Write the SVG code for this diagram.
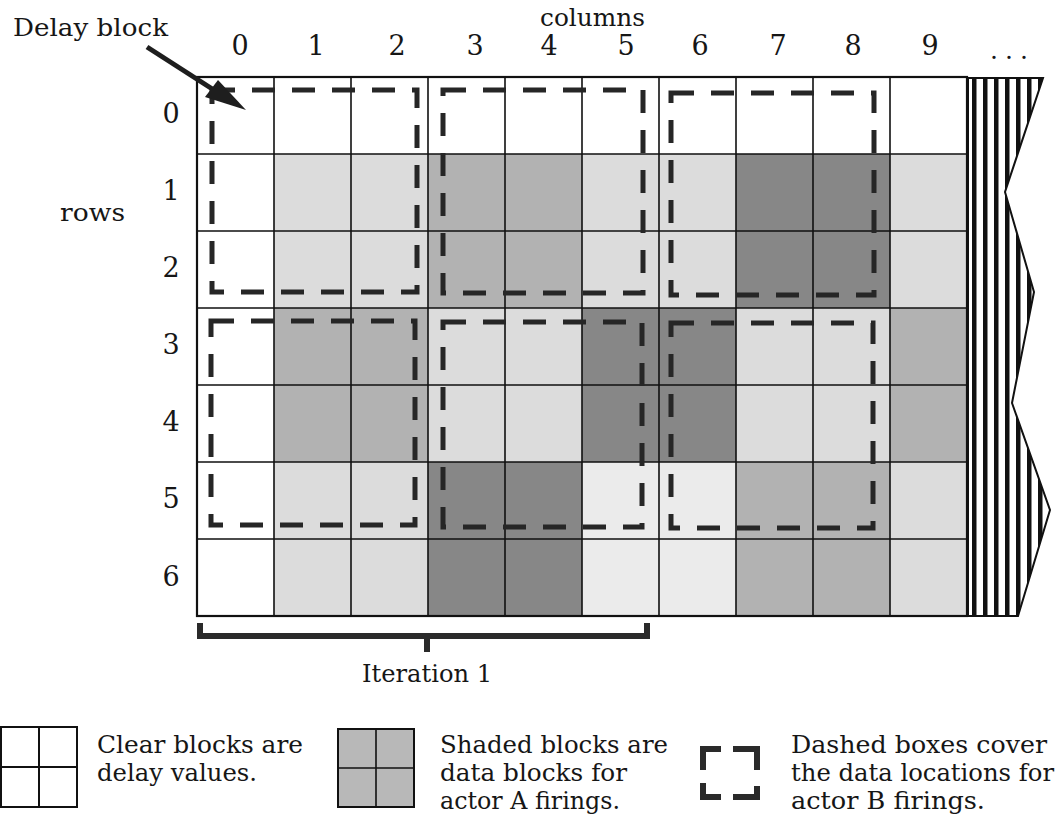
<svg xmlns="http://www.w3.org/2000/svg" width="1057" height="825" viewBox="0 0 1057 825">
<style>
text{font-family:"DejaVu Serif","Liberation Serif",serif;fill:#161616}
.lbl{font-size:25px}
.num{font-size:27px;text-anchor:middle}
.leg{font-size:24px}
.L{fill:#dcdcdc}.VL{fill:#ebebeb}.M{fill:#b2b2b2}.D{fill:#878787}
.grid{fill:none;stroke:#111;stroke-width:1.6}
.outer{fill:none;stroke:#111;stroke-width:2.2}
.dash{fill:none;stroke:#262626;stroke-width:5;stroke-dasharray:23 17}
.brk{fill:none;stroke:#2a2a2a;stroke-width:6;stroke-linejoin:miter}
</style>
<defs>
<pattern id="stripes" patternUnits="userSpaceOnUse" x="970" y="0" width="11" height="10">
<rect width="11" height="10" fill="#fff"/>
<rect x="2" width="4.5" height="10" fill="#111"/>
</pattern>
</defs>
<rect width="1057" height="825" fill="#fff"/>

<g id="cells">
<g id="blocks-r1-2">
<rect class="L" x="274" y="154" width="154" height="154"/>
<rect class="M" x="428" y="154" width="154" height="154"/>
<rect class="L" x="582" y="154" width="154" height="154"/>
<rect class="D" x="736" y="154" width="154" height="154"/>
<rect class="L" x="890" y="154" width="77" height="154"/>
</g>
<g id="blocks-r3-4">
<rect class="M" x="274" y="308" width="154" height="154"/>
<rect class="L" x="428" y="308" width="154" height="154"/>
<rect class="D" x="582" y="308" width="154" height="154"/>
<rect class="L" x="736" y="308" width="154" height="154"/>
<rect class="M" x="890" y="308" width="77" height="154"/>
</g>
<g id="blocks-r5-6">
<rect class="L" x="274" y="462" width="154" height="154"/>
<rect class="D" x="428" y="462" width="154" height="154"/>
<rect class="VL" x="582" y="462" width="154" height="154"/>
<rect class="M" x="736" y="462" width="154" height="154"/>
<rect class="L" x="890" y="462" width="77" height="154"/>
</g>
<path class="grid" d="M274 77V616M351 77V616M428 77V616M505 77V616M582 77V616M659 77V616M736 77V616M813 77V616M890 77V616M197 154H967M197 231H967M197 308H967M197 385H967M197 462H967M197 539H967"/>
<rect class="outer" x="197" y="77" width="770" height="539"/>
</g>

<g id="continuation">
<polygon points="968,78 1043,78 1005,192 1034,292 1012,403 1050,510 1018,616 968,616" fill="url(#stripes)" stroke="#111" stroke-width="2"/>
</g>

<g id="dashed-boxes">
<path id="boxA" class="dash" d="M212 90H417V292H212Z"/>
<path id="boxB" class="dash" d="M443 90H643V293H443Z"/>
<path id="boxC" class="dash" d="M671 93H874V295H671Z"/>
<path id="boxD" class="dash" d="M211 321H415V525H211Z"/>
<path id="boxE" class="dash" d="M443 322H642V527H443Z"/>
<path id="boxF" class="dash" d="M671 323H873V528H671Z"/>
</g>

<g id="labels">
<text class="lbl" x="13" y="36" textLength="155" lengthAdjust="spacingAndGlyphs">Delay block</text>
<text class="lbl" x="540" y="26" textLength="105" lengthAdjust="spacingAndGlyphs">columns</text>
<text class="lbl" x="60" y="221" textLength="65" lengthAdjust="spacingAndGlyphs">rows</text>
<text class="num" x="240" y="55">0</text>
<text class="num" x="316" y="55">1</text>
<text class="num" x="397" y="55">2</text>
<text class="num" x="475" y="55">3</text>
<text class="num" x="549" y="55">4</text>
<text class="num" x="626" y="55">5</text>
<text class="num" x="700" y="55">6</text>
<text class="num" x="778" y="55">7</text>
<text class="num" x="853" y="55">8</text>
<text class="num" x="930" y="55">9</text>
<text class="lbl" x="990" y="59" textLength="38" lengthAdjust="spacing">...</text>
<text class="num" x="171" y="123">0</text>
<text class="num" x="171" y="200">1</text>
<text class="num" x="171" y="277">2</text>
<text class="num" x="171" y="354">3</text>
<text class="num" x="171" y="431">4</text>
<text class="num" x="171" y="508">5</text>
<text class="num" x="171" y="586">6</text>
<text class="lbl" x="362" y="682" textLength="130" lengthAdjust="spacingAndGlyphs">Iteration 1</text>
</g>

<g id="connectors">
<line x1="147" y1="47" x2="217" y2="92" stroke="#1e1e1e" stroke-width="5"/>
<polygon points="246,110 205,97 218,80" fill="#1e1e1e"/>
<path id="iteration-bracket" class="brk" d="M200 623V636H647V623M427 636V652"/>
</g>

<g id="legend-clear">
<rect x="1" y="727" width="76" height="80" fill="#fff" stroke="#111" stroke-width="2"/>
<path d="M39 727V807M1 767H77" stroke="#111" stroke-width="2"/>
<text class="leg" x="97" y="753" textLength="206" lengthAdjust="spacingAndGlyphs">Clear blocks are</text>
<text class="leg" x="97" y="781" textLength="160" lengthAdjust="spacingAndGlyphs">delay values.</text>
</g>
<g id="legend-shaded">
<rect x="338" y="729" width="76" height="78" fill="#b8b8b8" stroke="#111" stroke-width="2"/>
<path d="M376 729V807M338 768H414" stroke="#111" stroke-width="1.6"/>
<text class="leg" x="440" y="753" textLength="228" lengthAdjust="spacingAndGlyphs">Shaded blocks are</text>
<text class="leg" x="440" y="781" textLength="187" lengthAdjust="spacingAndGlyphs">data blocks for</text>
<text class="leg" x="440" y="809" textLength="180" lengthAdjust="spacingAndGlyphs">actor A firings.</text>
</g>
<g id="legend-dashed">
<path class="brk" d="M721 749H703V770M733 749H757V770M703 783V797H721M733 797H757V786"/>
<text class="leg" x="791" y="753" textLength="256" lengthAdjust="spacingAndGlyphs">Dashed boxes cover</text>
<text class="leg" x="791" y="781" textLength="263" lengthAdjust="spacingAndGlyphs">the data locations for</text>
<text class="leg" x="791" y="809" textLength="194" lengthAdjust="spacingAndGlyphs">actor B firings.</text>
</g>
</svg>
